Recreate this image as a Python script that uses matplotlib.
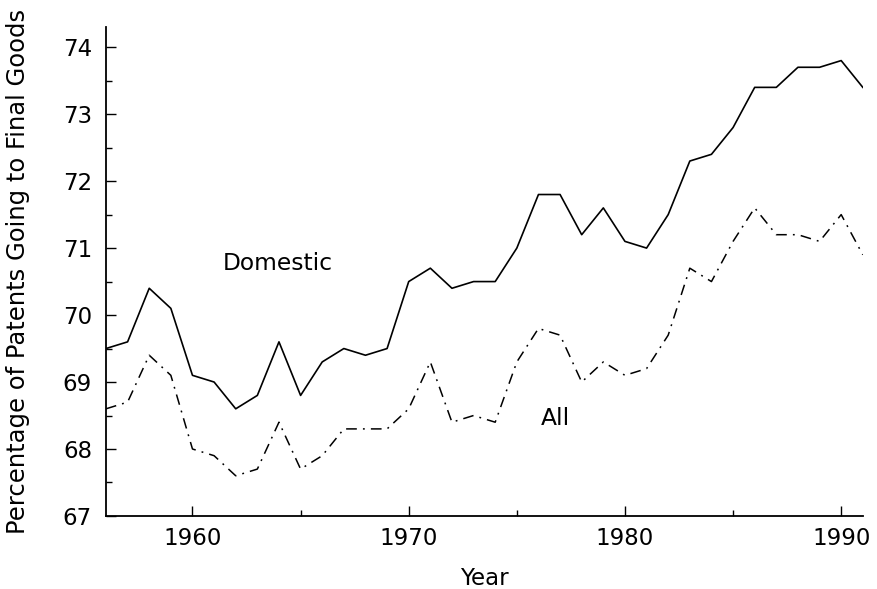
import matplotlib
matplotlib.use("Agg")
import matplotlib.pyplot as plt
from matplotlib.ticker import MultipleLocator

years = list(range(1956, 1992))
domestic = [69.5, 69.6, 70.4, 70.1, 69.1, 69.0, 68.6, 68.8, 69.6, 68.8,
            69.3, 69.5, 69.4, 69.5, 70.5, 70.7, 70.4, 70.5, 70.5, 71.0,
            71.8, 71.8, 71.2, 71.6, 71.1, 71.0, 71.5, 72.3, 72.4, 72.8,
            73.4, 73.4, 73.7, 73.7, 73.8, 73.4]
all_patents = [68.6, 68.7, 69.4, 69.1, 68.0, 67.9, 67.6, 67.7, 68.4, 67.7,
               67.9, 68.3, 68.3, 68.3, 68.6, 69.3, 68.4, 68.5, 68.4, 69.3,
               69.8, 69.7, 69.0, 69.3, 69.1, 69.2, 69.7, 70.7, 70.5, 71.1,
               71.6, 71.2, 71.2, 71.1, 71.5, 70.9]

plt.rcParams['font.family'] = ['DejaVu Sans']

fig = plt.figure(figsize=(8.78, 5.89), dpi=100)
ax = fig.add_axes([0.1207, 0.124, 0.862, 0.83])

ax.plot(years, domestic, color='black', lw=1.2)
ax.plot(years, all_patents, color='black', lw=1.1, dashes=(7, 4, 1.2, 4))

ax.text(1961.4, 70.77, 'Domestic', fontsize=16.8, va='center', ha='left')
ax.text(1976.1, 68.46, 'All', fontsize=16.8, va='center', ha='left')

ax.set_xlim(1956, 1991)
ax.set_ylim(67, 74.3)
ax.xaxis.set_major_locator(MultipleLocator(10))
ax.xaxis.set_minor_locator(MultipleLocator(5))
ax.yaxis.set_major_locator(MultipleLocator(1))
ax.yaxis.set_minor_locator(MultipleLocator(0.5))

ax.spines['top'].set_visible(False)
ax.spines['right'].set_visible(False)
for s in ('left', 'bottom'):
    ax.spines[s].set_linewidth(1.3)

ax.tick_params(which='major', direction='in', length=7, width=1, labelsize=16.5, pad=10)
ax.tick_params(which='minor', direction='in', length=4, width=1)
ax.tick_params(axis='x', pad=8)

ax.set_xlabel('Year', fontsize=16.5, labelpad=12)
ax.set_ylabel('Percentage of Patents Going to Final Goods', fontsize=17.5, labelpad=24)

fig.savefig('out.png', dpi=100)
